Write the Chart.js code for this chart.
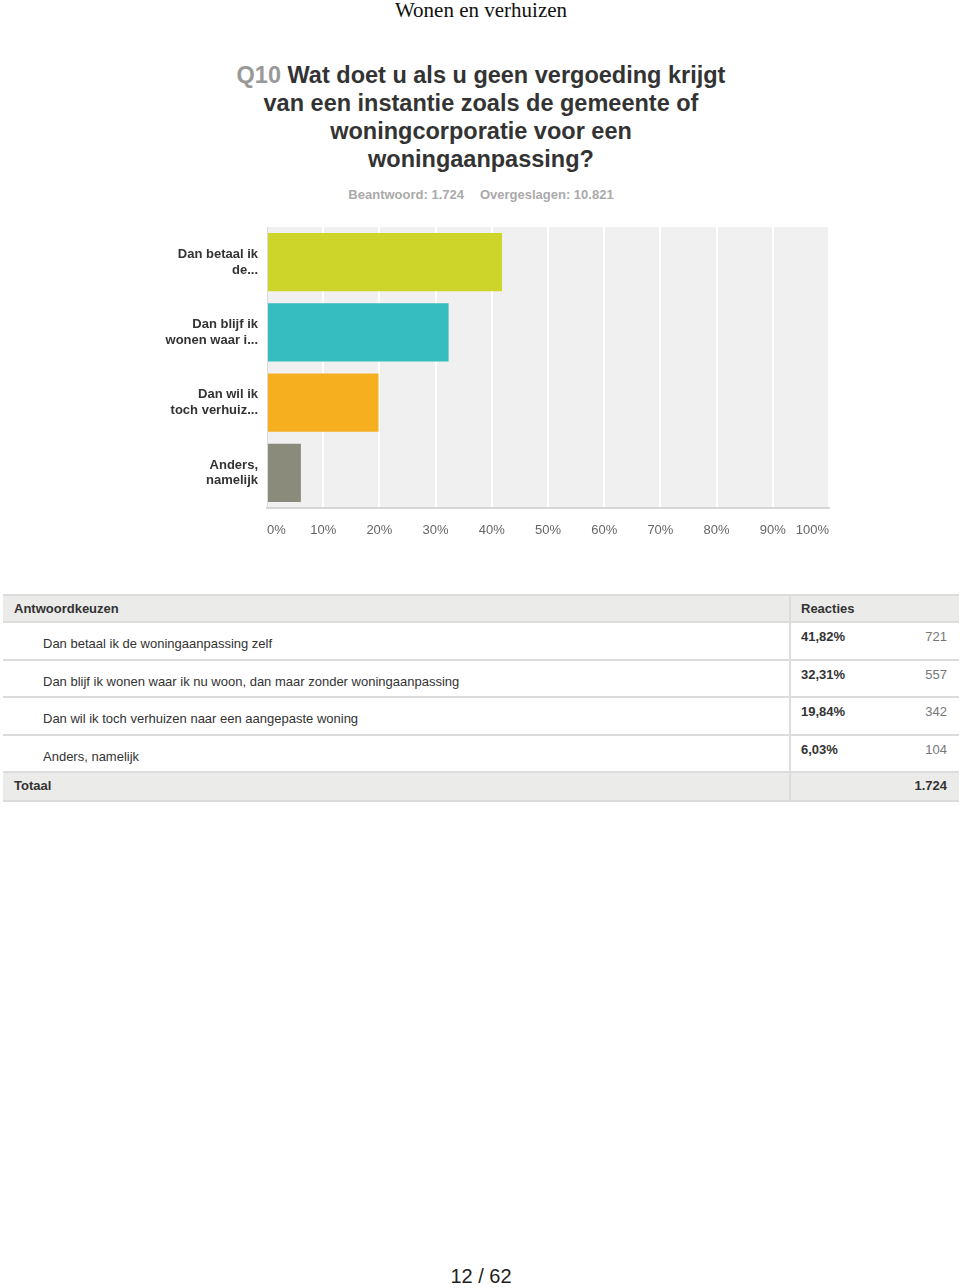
<!DOCTYPE html>
<html>
<head>
<meta charset="utf-8">
<title>Wonen en verhuizen</title>
<script src="https://cdn.jsdelivr.net/npm/chart.js@4.4.1/dist/chart.umd.min.js"></script>
<style>
  body { margin: 0; width: 960px; height: 1288px; position: relative; background: #fff; overflow: hidden;
         font-family: "Liberation Sans", Arial, sans-serif; color: #333; }
  .abs { position: absolute; }
  .page-head { left: 0; width: 962px; top: -2px; text-align: center; font-family: "Liberation Serif", "Times New Roman", serif; font-size: 21px; color: #111; }
  .question { left: 0; width: 962px; top: 61px; text-align: center; font-weight: bold; font-size: 23.5px; line-height: 28px; color: #333; }
  .question .num { color: #999; }
  .meta { left: 0; width: 962px; top: 187px; text-align: center; font-weight: bold; font-size: 13px; color: #aaa; }
  .meta span + span { margin-left: 16px; }
  .chart-box { left: 150px; top: 220px; width: 700px; height: 330px; }
  .tbl { left: 3px; top: 594px; width: 956px; }
  .row { position: relative; border-bottom: 2px solid #dcdcdc; box-sizing: border-box; font-size: 13px; }
  .row .c1, .row .c2, .row .c3 { position: absolute; }
  .divider { position: absolute; left: 786px; top: 0; bottom: 0; width: 2px; background: #dcdcdc; z-index: 2; }
  .head, .total { background: #ebebe9; font-weight: bold; }
  .footer { left: 0; width: 962px; top: 1265px; text-align: center; font-size: 20px; color: #222; }
</style>
</head>
<body>
<div class="abs page-head">Wonen en verhuizen</div>
<div class="abs question"><span class="num">Q10</span> Wat doet u als u geen vergoeding krijgt<br>van een instantie zoals de gemeente of<br>woningcorporatie voor een<br>woningaanpassing?</div>
<div class="abs meta"><span>Beantwoord: 1.724</span><span>Overgeslagen: 10.821</span></div>

<div class="abs chart-box"><canvas id="chart" width="700" height="330"></canvas></div>

<div class="abs tbl" id="tbl"></div>

<div class="abs footer">12 / 62</div>

<script>
const categories = [["Dan betaal ik", "de..."], ["Dan blijf ik", "wonen waar i..."], ["Dan wil ik", "toch verhuiz..."], ["Anders,", "namelijk"]];
const answers = [
  "Dan betaal ik de woningaanpassing zelf",
  "Dan blijf ik wonen waar ik nu woon, dan maar zonder woningaanpassing",
  "Dan wil ik toch verhuizen naar een aangepaste woning",
  "Anders, namelijk"
];
const percentages = [41.82, 32.31, 19.84, 6.03];
const responses = [721, 557, 342, 104];
const barColors = ["#cdd52b", "#35bdc0", "#f6b01f", "#8a8b7a"];

// grey plot area behind the bars
const plotBackground = {
  id: "plotBackground",
  beforeDraw(chart) {
    const { ctx, chartArea } = chart;
    ctx.save();
    ctx.fillStyle = "#f0f0f0";
    ctx.fillRect(chartArea.left, chartArea.top, chartArea.width, chartArea.height);
    ctx.restore();
  }
};

new Chart(document.getElementById("chart"), {
  type: "bar",
  data: {
    labels: categories,
    datasets: [{
      data: percentages,
      backgroundColor: barColors,
      borderWidth: 0,
      barPercentage: 0.83,
      categoryPercentage: 1
    }]
  },
  options: {
    indexAxis: "y",
    responsive: false,
    animation: false,
    layout: { padding: { top: 7, right: 21, left: 0, bottom: 0 } },
    plugins: { legend: { display: false }, tooltip: { enabled: false } },
    scales: {
      x: {
        min: 0,
        max: 100,
        afterFit: (axis) => { axis.height = 42; },
        grid: { color: "#ffffff", lineWidth: 2, drawTicks: false },
        border: { color: "#d6d6d6", width: 2 },
        ticks: {
          stepSize: 10,
          align: "inner",
          padding: 15,
          color: "#666",
          font: { family: "Liberation Sans", size: 13 },
          callback: (v) => v + "%"
        }
      },
      y: {
        afterFit: (axis) => {
          axis.width = 117;
          axis.paddingTop = 0;
          axis.paddingBottom = 0;
        },
        grid: { display: false, drawTicks: false },
        border: { color: "#d9d9d9", width: 1 },
        ticks: {
          padding: 9,
          color: "#333",
          font: { family: "Liberation Sans", size: 13, weight: "bold", lineHeight: 1.2 }
        }
      }
    }
  },
  plugins: [plotBackground]
});

// response table
const tbl = document.getElementById("tbl");
const fmtPct = (v) => v.toFixed(2).replace(".", ",") + "%";
const total = responses.reduce((a, b) => a + b, 0);
let html = '<div class="divider"></div>';
html += '<div class="row head" style="height:29px;border-top:2px solid #dcdcdc">' +
        '<span class="c1" style="left:11px;top:5px">Antwoordkeuzen</span>' +
        '<span class="c2" style="left:798px;top:5px">Reacties</span></div>';
answers.forEach((a, i) => {
  html += '<div class="row" style="height:37.6px">' +
          '<span class="c1" style="left:40px;top:13px">' + a + '</span>' +
          '<span class="c2" style="left:798px;top:6px;font-weight:bold">' + fmtPct(percentages[i]) + '</span>' +
          '<span class="c3" style="right:12px;top:6px;color:#777">' + responses[i] + '</span></div>';
});
html += '<div class="row total" style="height:29px">' +
        '<span class="c1" style="left:11px;top:5px">Totaal</span>' +
        '<span class="c3" style="right:12px;top:5px">' + total.toLocaleString("de-DE") + '</span></div>';
tbl.innerHTML = html;
</script>
</body>
</html>
